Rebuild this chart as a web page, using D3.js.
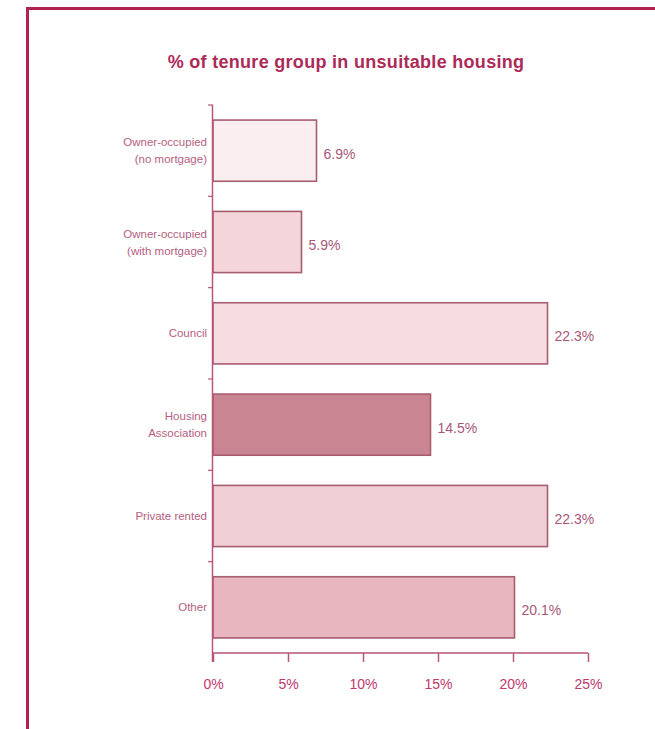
<!DOCTYPE html>
<html>
<head>
<meta charset="utf-8">
<script src="https://cdn.jsdelivr.net/npm/d3@7"></script>
<style>
  html, body { margin: 0; padding: 0; background: #ffffff; }
  svg { display: block; }
</style>
</head>
<body>
<svg id="chart" width="655" height="729"></svg>
<script>
// Tenure groups (each entry is the label split into display lines)
const categories = [
  ["Owner-occupied", "(no mortgage)"],
  ["Owner-occupied", "(with mortgage)"],
  ["Council"],
  ["Housing", "Association"],
  ["Private rented"],
  ["Other"]
];
// Share of each tenure group living in unsuitable housing (%)
const values = [6.9, 5.9, 22.3, 14.5, 22.3, 20.1];
const barFills = ["#fbeef1", "#f3d5da", "#f6dde1", "#c98692", "#f0d0d6", "#e7b6bf"];
const xTicks = [0, 5, 10, 15, 20, 25];
const titleText = "% of tenure group in unsuitable housing";

const svg = d3.select("#chart");

// Frame lines along the top and left edges
svg.append("line").attr("x1", 26).attr("x2", 655).attr("y1", 8.5).attr("y2", 8.5)
  .attr("stroke", "#b0244f").attr("stroke-width", 3);
svg.append("line").attr("x1", 27.5).attr("x2", 27.5).attr("y1", 7).attr("y2", 729)
  .attr("stroke", "#b0244f").attr("stroke-width", 3);

// Title
svg.append("text")
  .attr("x", 346).attr("y", 68)
  .attr("text-anchor", "middle")
  .attr("font-family", "'Liberation Sans', Arial, sans-serif")
  .attr("font-weight", "bold")
  .attr("font-size", 18)
  .attr("letter-spacing", 0.3)
  .attr("fill", "#ad2a57")
  .text(titleText);

const margin = { left: 213, top: 105, right: 588, bottom: 653 };

const x = d3.scaleLinear().domain([0, 25]).range([margin.left, margin.right]);
const y = d3.scaleBand().domain(d3.range(categories.length))
  .range([margin.top, margin.bottom]).paddingInner(0.33).paddingOuter(0.165);

const axisColor = "#b8557a";

// Bars
svg.append("g").selectAll("rect")
  .data(values)
  .join("rect")
  .attr("x", x(0))
  .attr("y", (d, i) => y(i))
  .attr("width", d => x(d) - x(0))
  .attr("height", y.bandwidth())
  .attr("fill", (d, i) => barFills[i])
  .attr("stroke", "#a85c6f")
  .attr("stroke-width", 1.6);

// Value labels
svg.append("g").selectAll("text")
  .data(values)
  .join("text")
  .attr("x", d => x(d) + 7)
  .attr("y", (d, i) => y(i) + y.bandwidth() / 2 + 8)
  .attr("font-family", "'Liberation Sans', Arial, sans-serif")
  .attr("font-size", 14)
  .attr("fill", "#a8577a")
  .text(d => d.toFixed(1) + "%");

// Category axis: line with small ticks between groups
const yAxisG = svg.append("g");
const tickYs = d3.range(categories.length + 1).map(i => margin.top + i * (margin.bottom - margin.top) / categories.length);
yAxisG.append("line")
  .attr("x1", margin.left - 0.5).attr("x2", margin.left - 0.5)
  .attr("y1", margin.top).attr("y2", margin.bottom + 9)
  .attr("stroke", axisColor).attr("stroke-width", 1.5);
yAxisG.selectAll("line.tick")
  .data(tickYs.slice(0, -1))
  .join("line")
  .attr("class", "tick")
  .attr("x1", margin.left - 5).attr("x2", margin.left)
  .attr("y1", d => d).attr("y2", d => d)
  .attr("stroke", axisColor).attr("stroke-width", 1.2);

// Category labels
const catG = svg.append("g")
  .attr("font-family", "'Liberation Sans', Arial, sans-serif")
  .attr("font-size", 11.5)
  .attr("fill", "#b5607f")
  .attr("text-anchor", "end");
categories.forEach((lines, i) => {
  const cy = y(i) + y.bandwidth() / 2;
  const lh = 17;
  const t = catG.append("text").attr("x", margin.left - 6);
  lines.forEach((ln, j) => {
    t.append("tspan")
      .attr("x", margin.left - 6)
      .attr("y", cy + 4 + (j - (lines.length - 1) / 2) * lh)
      .text(ln);
  });
});

// Value axis along the bottom
const xAxis = d3.axisBottom(x)
  .tickValues(xTicks)
  .tickSize(9)
  .tickPadding(17)
  .tickFormat(d => d + "%");
const xg = svg.append("g")
  .attr("transform", `translate(0,${margin.bottom})`)
  .call(xAxis);
xg.select(".domain").attr("stroke", axisColor).attr("stroke-width", 1.5)
  .attr("d", `M${x(0)},0H${x(25)}`);
xg.selectAll(".tick line").attr("stroke", axisColor).attr("stroke-width", 1.5);
xg.selectAll(".tick text")
  .attr("font-family", "'Liberation Sans', Arial, sans-serif")
  .attr("font-size", 14)
  .attr("fill", "#c0386e");
</script>
</body>
</html>
